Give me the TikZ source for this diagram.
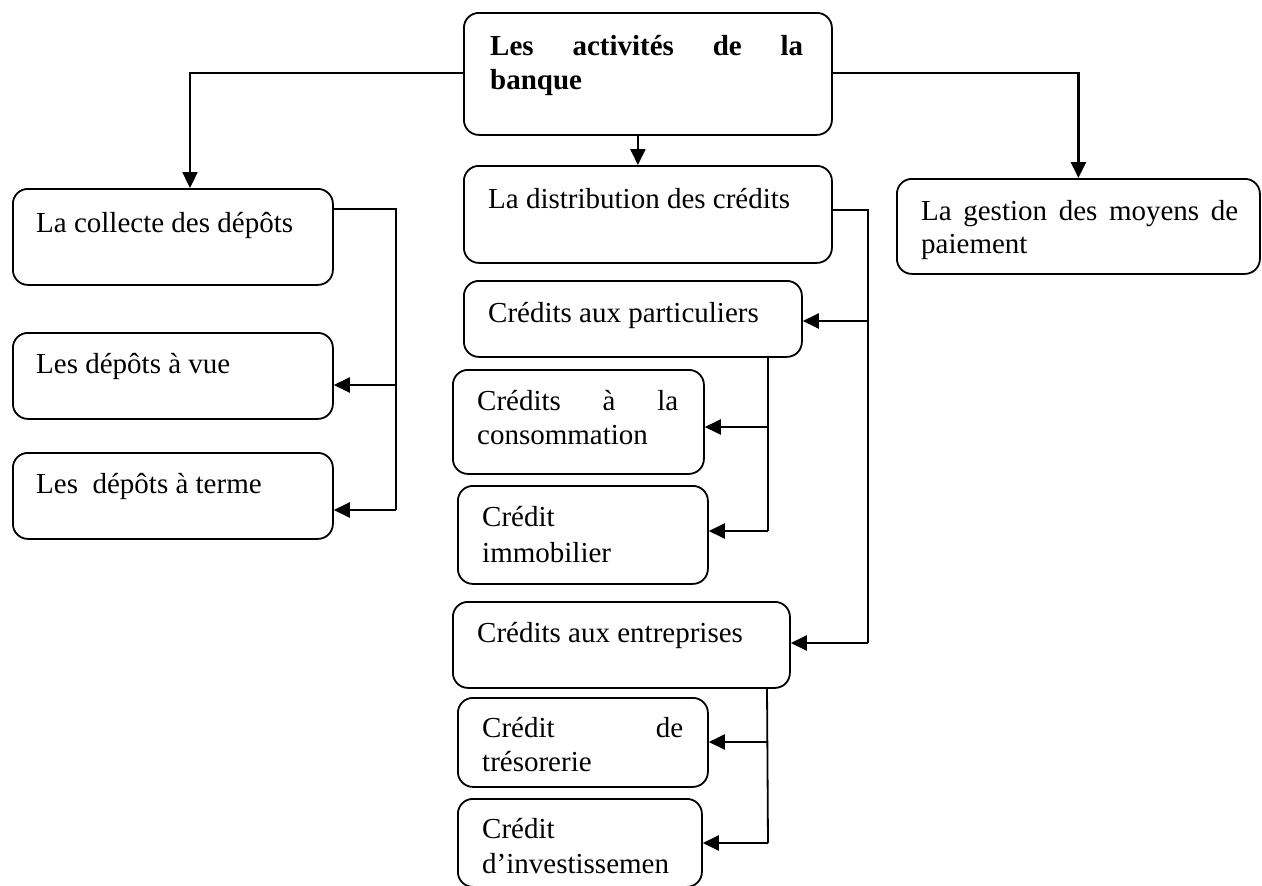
\documentclass[tikz,border=0pt]{standalone}
\usepackage{fontspec}
\setmainfont{Liberation Serif}
\usetikzlibrary{arrows.meta}

\tikzset{
  box/.style={draw, line width=1.8pt, rounded corners=15pt, inner sep=0pt, anchor=north west},
  txt/.style={anchor=base west, inner sep=0pt, font=\fontsize{29}{34}\selectfont},
  wire/.style={line width=1.8pt},
  arr/.style={line width=2.4pt, -{Triangle[length=16pt,width=15pt]}},
}
% a line of text stretched to a given width
\newcommand{\jline}[2]{\makebox[#1][s]{#2}}

\begin{document}
\begin{tikzpicture}[x=1pt, y=-1pt]
\useasboundingbox (0,0) rectangle (1262,886);

% boxes
\node[box, minimum width=368pt, minimum height=122pt] (act)    at (463,12)  {};
\node[box, minimum width=368pt, minimum height=97pt]  (dist)   at (463,165) {};
\node[box, minimum width=320pt, minimum height=96pt]  (coll)   at (12,188)  {};
\node[box, minimum width=320pt, minimum height=86pt]  (vue)    at (12,332)  {};
\node[box, minimum width=320pt, minimum height=86pt]  (terme)  at (12,452)  {};
\node[box, minimum width=363pt, minimum height=95pt]  (gest)   at (896,178) {};
\node[box, minimum width=338pt, minimum height=76pt]  (part)   at (463,280) {};
\node[box, minimum width=251pt, minimum height=104pt] (conso)  at (452,369) {};
\node[box, minimum width=250pt, minimum height=98pt]  (immo)   at (457,485) {};
\node[box, minimum width=337pt, minimum height=86pt]  (entr)   at (452,601) {};
\node[box, minimum width=250pt, minimum height=89pt]  (treso)  at (457,697) {};
\node[box, minimum width=244pt, minimum height=88pt]  (invest) at (457,798) {};

% texts
\node[txt, font=\fontsize{29}{34}\selectfont\bfseries] (tact1) at (490,55) {\jline{313pt}{Les activités de la}};
\node[txt, font=\fontsize{29}{34}\selectfont\bfseries] (tact2) at (490,89) {banque};
\node[txt] (tdist)  at (488,208) {La distribution des crédits};
\node[txt] (tcoll)  at (36,232)  {La collecte des dépôts};
\node[txt] (tvue)   at (36,373)  {Les dépôts à vue};
\node[txt] (tterme) at (36,493)  {Les\ \ dépôts à terme};
\node[txt] (tgest1) at (921,220) {\jline{317pt}{La gestion des moyens de}};
\node[txt] (tgest2) at (921,253) {paiement};
\node[txt] (tpart)  at (488,322) {Crédits aux particuliers};
\node[txt] (tcons1) at (477,410) {\jline{201pt}{Crédits à la}};
\node[txt] (tcons2) at (477,444) {consommation};
\node[txt] (timmo1) at (482,526) {Crédit};
\node[txt] (timmo2) at (482,562) {immobilier};
\node[txt] (tentr)  at (477,642) {Crédits aux entreprises};
\node[txt] (ttres1) at (482,737) {\jline{201pt}{Crédit de}};
\node[txt] (ttres2) at (482,771) {trésorerie};
\node[txt] (tinv1)  at (482,838) {Crédit};
\node[txt] (tinv2)  at (482,873) {d’investissemen};

% junction points
\coordinate (jl) at (190,73);
\coordinate (jr) at (1078,73);
\coordinate (dc) at (396,209);
\coordinate (dd) at (868,210);
\coordinate (pp) at (768,356);
\coordinate (pe) at (767,687);

% top level
\draw[arr] (act.west |- jl) -| (jl |- coll.north);
\draw[arr] (act.east |- jr) -| (gest.north);
\draw[arr] ([xshift=-10pt]act.south) -- ([xshift=-10pt]dist.north);

% deposits
\draw[wire] (coll.east |- dc) -- (dc) -- (396,510);
\draw[arr] (396,385) -- (vue.east |- 0,385);
\draw[arr] (396,510) -- (terme.east |- 0,510);

% credits
\draw[wire] (dist.east |- dd) -- (dd) -- (868,643);
\draw[arr] (868,321) -- (part.east |- 0,321);
\draw[arr] (868,643) -- (entr.east |- 0,643);

% individuals
\draw[wire] (pp) -- (768,531);
\draw[arr] (768,427) -- (conso.east |- 0,427);
\draw[arr] (768,531) -- (immo.east |- 0,531);

% companies
\draw[wire] (pe) -- (768,843);
\draw[arr] (767.5,742) -- (treso.east |- 0,742);
\draw[arr] (768,843) -- (invest.east |- 0,843);
\end{tikzpicture}
\end{document}
